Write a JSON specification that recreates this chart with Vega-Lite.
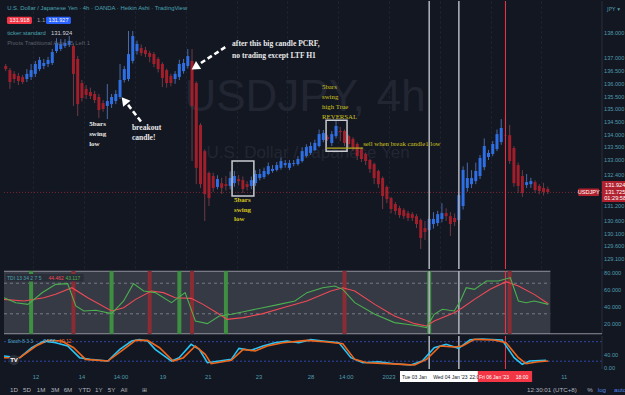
{
"$schema":"https://vega.github.io/schema/vega-lite/v6.json",
"background":"#131722",
"padding":0,
"bounds":"flush",
"spacing":2,
"config":{"view":{"stroke":null},"font":"Liberation Sans","axis":{"labelOverlap":false}},
"datasets":{
"candles":[
{"i":0,"o":136.70,"h":136.78,"l":136.50,"c":136.58},
{"i":1,"o":136.54,"h":136.62,"l":135.80,"c":136.07},
{"i":2,"o":136.39,"h":136.50,"l":136.03,"c":136.19},
{"i":3,"o":136.31,"h":136.43,"l":135.95,"c":136.11},
{"i":4,"o":136.27,"h":136.35,"l":135.99,"c":136.07},
{"i":5,"o":136.19,"h":136.58,"l":136.07,"c":136.39},
{"i":6,"o":136.27,"h":136.78,"l":136.15,"c":136.54},
{"i":7,"o":136.39,"h":136.90,"l":136.27,"c":136.78},
{"i":8,"o":136.58,"h":137.06,"l":136.50,"c":136.94},
{"i":9,"o":136.70,"h":136.98,"l":136.58,"c":136.82},
{"i":10,"o":136.78,"h":137.06,"l":136.66,"c":136.94},
{"i":11,"o":136.82,"h":137.37,"l":136.74,"c":137.25},
{"i":12,"o":137.29,"h":137.80,"l":137.21,"c":137.61},
{"i":13,"o":137.37,"h":137.76,"l":137.29,"c":137.57},
{"i":14,"o":137.49,"h":137.76,"l":137.41,"c":137.61},
{"i":15,"o":137.53,"h":137.88,"l":137.45,"c":137.69},
{"i":16,"o":137.49,"h":137.60,"l":135.13,"c":136.39},
{"i":17,"o":136.98,"h":137.10,"l":134.73,"c":135.20},
{"i":18,"o":136.03,"h":136.15,"l":135.30,"c":135.44},
{"i":19,"o":135.80,"h":135.95,"l":135.40,"c":135.56},
{"i":20,"o":135.68,"h":135.85,"l":135.40,"c":135.52},
{"i":21,"o":135.60,"h":135.72,"l":135.24,"c":135.36},
{"i":22,"o":135.48,"h":135.60,"l":134.65,"c":134.97},
{"i":23,"o":135.24,"h":135.36,"l":134.90,"c":135.01},
{"i":24,"o":135.13,"h":135.99,"l":134.61,"c":135.32},
{"i":25,"o":135.20,"h":135.60,"l":135.05,"c":135.48},
{"i":26,"o":135.32,"h":135.75,"l":135.20,"c":135.60},
{"i":27,"o":135.48,"h":136.78,"l":135.40,"c":136.15},
{"i":28,"o":136.15,"h":136.70,"l":136.05,"c":136.58},
{"i":29,"o":136.19,"h":138.08,"l":136.10,"c":137.17},
{"i":30,"o":136.90,"h":138.08,"l":136.80,"c":137.88},
{"i":31,"o":137.29,"h":137.70,"l":137.15,"c":137.57},
{"i":32,"o":137.41,"h":137.55,"l":137.10,"c":137.21},
{"i":33,"o":137.33,"h":137.45,"l":137.05,"c":137.17},
{"i":34,"o":137.21,"h":137.30,"l":136.85,"c":137.06},
{"i":35,"o":137.17,"h":137.25,"l":136.65,"c":136.78},
{"i":36,"o":136.98,"h":137.05,"l":136.45,"c":136.58},
{"i":37,"o":136.78,"h":136.85,"l":135.87,"c":136.23},
{"i":38,"o":136.54,"h":136.60,"l":135.85,"c":136.03},
{"i":39,"o":136.31,"h":136.40,"l":135.90,"c":136.03},
{"i":40,"o":136.19,"h":136.50,"l":136.00,"c":136.39},
{"i":41,"o":136.27,"h":136.95,"l":136.15,"c":136.78},
{"i":42,"o":136.50,"h":136.98,"l":136.40,"c":136.82},
{"i":43,"o":136.70,"h":137.37,"l":136.60,"c":137.09},
{"i":44,"o":136.90,"h":137.37,"l":132.96,"c":135.13},
{"i":45,"o":136.03,"h":136.10,"l":132.05,"c":132.69},
{"i":46,"o":134.38,"h":134.45,"l":131.90,"c":132.05},
{"i":47,"o":133.35,"h":133.42,"l":130.60,"c":131.66},
{"i":48,"o":132.49,"h":132.55,"l":131.19,"c":131.50},
{"i":49,"o":132.37,"h":132.50,"l":131.75,"c":131.90},
{"i":50,"o":131.94,"h":132.40,"l":131.85,"c":132.25},
{"i":51,"o":132.09,"h":132.30,"l":131.66,"c":131.90},
{"i":52,"o":132.05,"h":132.37,"l":131.80,"c":131.98},
{"i":53,"o":131.98,"h":132.55,"l":131.85,"c":132.29},
{"i":54,"o":132.09,"h":132.57,"l":131.95,"c":132.37},
{"i":55,"o":132.25,"h":132.41,"l":132.00,"c":132.17},
{"i":56,"o":132.21,"h":132.35,"l":131.70,"c":131.86},
{"i":57,"o":132.05,"h":132.17,"l":131.80,"c":131.94},
{"i":58,"o":131.98,"h":132.35,"l":131.85,"c":132.21},
{"i":59,"o":132.09,"h":132.60,"l":131.98,"c":132.45},
{"i":60,"o":132.29,"h":132.65,"l":132.20,"c":132.45},
{"i":61,"o":132.33,"h":132.70,"l":132.25,"c":132.57},
{"i":62,"o":132.45,"h":132.90,"l":132.40,"c":132.76},
{"i":63,"o":132.57,"h":132.80,"l":132.50,"c":132.65},
{"i":64,"o":132.61,"h":132.92,"l":132.55,"c":132.80},
{"i":65,"o":132.69,"h":133.10,"l":132.62,"c":132.96},
{"i":66,"o":132.80,"h":133.00,"l":132.70,"c":132.88},
{"i":67,"o":132.69,"h":133.00,"l":132.60,"c":132.88},
{"i":68,"o":132.84,"h":133.00,"l":132.75,"c":132.88},
{"i":69,"o":132.84,"h":133.15,"l":132.78,"c":133.04},
{"i":70,"o":132.96,"h":133.50,"l":132.90,"c":133.35},
{"i":71,"o":133.16,"h":133.62,"l":133.10,"c":133.51},
{"i":72,"o":133.28,"h":133.70,"l":133.20,"c":133.55},
{"i":73,"o":133.39,"h":133.80,"l":133.35,"c":133.67},
{"i":74,"o":133.55,"h":134.20,"l":133.50,"c":134.02},
{"i":75,"o":133.79,"h":134.18,"l":133.70,"c":134.06},
{"i":76,"o":133.90,"h":133.98,"l":133.75,"c":133.83},
{"i":77,"o":133.67,"h":134.14,"l":133.55,"c":134.02},
{"i":78,"o":133.94,"h":134.57,"l":133.85,"c":134.34},
{"i":79,"o":134.14,"h":134.30,"l":133.75,"c":134.10},
{"i":80,"o":134.14,"h":134.20,"l":133.55,"c":133.67},
{"i":81,"o":133.94,"h":134.00,"l":133.50,"c":133.63},
{"i":82,"o":133.83,"h":133.90,"l":133.35,"c":133.47},
{"i":83,"o":133.63,"h":133.70,"l":133.00,"c":133.16},
{"i":84,"o":133.43,"h":133.50,"l":132.92,"c":133.04},
{"i":85,"o":133.24,"h":133.30,"l":132.80,"c":132.96},
{"i":86,"o":133.00,"h":133.05,"l":132.50,"c":132.65},
{"i":87,"o":132.84,"h":132.90,"l":132.05,"c":132.29},
{"i":88,"o":132.57,"h":132.62,"l":131.90,"c":132.05},
{"i":89,"o":132.29,"h":132.35,"l":131.07,"c":131.58},
{"i":90,"o":131.94,"h":132.00,"l":131.30,"c":131.46},
{"i":91,"o":131.50,"h":131.55,"l":130.90,"c":131.07},
{"i":92,"o":131.27,"h":131.35,"l":130.85,"c":130.99},
{"i":93,"o":131.11,"h":131.20,"l":130.72,"c":130.83},
{"i":94,"o":131.03,"h":131.10,"l":130.68,"c":130.79},
{"i":95,"o":130.91,"h":131.00,"l":130.60,"c":130.72},
{"i":96,"o":130.87,"h":130.95,"l":130.60,"c":130.72},
{"i":97,"o":130.79,"h":130.87,"l":130.32,"c":130.48},
{"i":98,"o":130.64,"h":130.70,"l":129.50,"c":129.93},
{"i":99,"o":130.32,"h":130.60,"l":129.85,"c":130.17},
{"i":100,"o":130.24,"h":130.80,"l":129.81,"c":130.68},
{"i":101,"o":130.48,"h":130.95,"l":130.30,"c":130.68},
{"i":102,"o":130.52,"h":131.00,"l":130.40,"c":130.87},
{"i":103,"o":130.68,"h":131.30,"l":130.55,"c":130.91},
{"i":104,"o":130.91,"h":131.10,"l":130.60,"c":130.79},
{"i":105,"o":130.79,"h":130.95,"l":130.01,"c":130.48},
{"i":106,"o":130.72,"h":130.90,"l":130.40,"c":130.56},
{"i":107,"o":130.64,"h":131.70,"l":130.50,"c":131.62},
{"i":108,"o":131.19,"h":132.75,"l":131.05,"c":132.61},
{"i":109,"o":131.90,"h":132.90,"l":131.75,"c":132.29},
{"i":110,"o":132.05,"h":132.60,"l":131.90,"c":132.29},
{"i":111,"o":132.17,"h":132.90,"l":132.05,"c":132.57},
{"i":112,"o":132.37,"h":133.20,"l":132.25,"c":133.08},
{"i":113,"o":132.72,"h":133.85,"l":132.60,"c":133.55},
{"i":114,"o":133.12,"h":133.40,"l":133.00,"c":133.28},
{"i":115,"o":133.24,"h":133.75,"l":133.15,"c":133.63},
{"i":116,"o":133.43,"h":134.20,"l":133.35,"c":134.02},
{"i":117,"o":133.71,"h":134.61,"l":133.60,"c":134.26},
{"i":118,"o":133.99,"h":134.75,"l":133.60,"c":133.97},
{"i":119,"o":133.98,"h":134.38,"l":132.85,"c":132.96},
{"i":120,"o":133.47,"h":133.55,"l":131.95,"c":132.09},
{"i":121,"o":132.80,"h":132.90,"l":131.70,"c":131.98},
{"i":122,"o":132.37,"h":132.60,"l":131.55,"c":131.70},
{"i":123,"o":132.02,"h":132.45,"l":131.90,"c":132.13},
{"i":124,"o":132.05,"h":132.30,"l":131.90,"c":132.17},
{"i":125,"o":132.13,"h":132.20,"l":131.70,"c":131.82},
{"i":126,"o":131.98,"h":132.05,"l":131.65,"c":131.78},
{"i":127,"o":131.90,"h":132.10,"l":131.60,"c":131.74},
{"i":128,"o":131.86,"h":131.95,"l":131.66,"c":131.74}
],
"wm1":[{"i":70.7,"p":135.46,"t":"USDJPY, 4h"}],
"wm2":[{"i":71.4,"p":133.28,"t":"U.S. Dollar / Japanese Yen"}],
"vlines":[{"i":100,"k":"g"},{"i":107,"k":"g"},{"i":118,"k":"r"}],
"sep":[{"i":140.8}],
"boxes":[{"i0":53.45,"i1":58.6,"p0":132.96,"p1":131.58},{"i0":75.65,"i1":80.6,"p0":134.57,"p1":133.35}],
"yline":[{"i0":75.65,"i1":84.4,"p":133.47}],
"arrows":[{"a":"A","i":52.3,"p":137.49},{"a":"A","i":46.1,"p":136.82},{"a":"B","i":32.2,"p":134.46},{"a":"B","i":28.9,"p":135.17}],
"headA":[{"i":45.0,"p":136.68}],
"headB":[{"i":28.2,"p":135.30}],
"notesA":[{"i":53.45,"p":137.57,"t":"after this big candle PCRF,"},{"i":53.45,"p":137.09,"t":"no trading except LTF H1"},{"i":29.8,"p":134.26,"t":"breakout"},{"i":29.8,"p":133.85,"t":"candle!"}],
"notesW":[{"i":19.7,"p":134.42,"t":"5bars"},{"i":19.7,"p":134.02,"t":"swing"},{"i":19.7,"p":133.63,"t":"low"}],
"notesY1":[{"i":53.9,"p":131.41,"t":"5bars"},{"i":53.9,"p":131.03,"t":"swing"},{"i":53.9,"p":130.66,"t":"low"}],
"notesY2":[{"i":74.7,"p":135.87,"t":"5bars"},{"i":74.7,"p":135.48,"t":"swing"},{"i":74.7,"p":135.09,"t":"high True"},{"i":74.7,"p":134.69,"t":"REVERSAL"},{"i":84.4,"p":133.63,"t":"sell when break candle1 low"}],
"hdrL":[{"i":0.35,"p":138.98,"t":"U.S. Dollar / Japanese Yen · 4h · OANDA · Heikin Ashi · TradingView","k":"teal"},{"i":7.4,"p":138.50,"t":"1.1","k":"gray"},{"i":0.35,"p":138.01,"t":"ticker:standard","k":"teal"},{"i":10.7,"p":138.01,"t":"131.924","k":"white"},{"i":0.35,"p":137.62,"t":"Pivots Traditional Auto 15 Left 1","k":"dim"}],
"hdrBox":[{"i0":0.3,"i1":6.2,"p0":138.64,"p1":138.35,"k":"r"},{"i0":9.5,"i1":15.4,"p0":138.64,"p1":138.35,"k":"b"}],
"hdrC":[{"i":3.26,"p":138.50,"t":"131.918"},{"i":12.47,"p":138.50,"t":"131.927"}],
"ylab":[{"p":138,"t":"138.000"},{"p":137,"t":"137.000"},{"p":136.5,"t":"136.500"},{"p":136,"t":"136.000"},{"p":135.5,"t":"135.500"},{"p":135,"t":"135.000"},{"p":134.5,"t":"134.500"},{"p":134,"t":"134.000"},{"p":133.5,"t":"133.500"},{"p":133,"t":"133.000"},{"p":132.4,"t":"132.400"},{"p":131.2,"t":"131.200"},{"p":130.6,"t":"130.600"},{"p":130.1,"t":"130.100"},{"p":129.6,"t":"129.600"},{"p":129.1,"t":"129.100"}],
"plabBox":[{"i0":140.8,"i1":147.2,"p0":132.17,"p1":131.35},{"i0":135.2,"i1":140.1,"p0":131.88,"p1":131.58}],
"plabT":[{"i":143.9,"p":132.02,"t":"131.924"},{"i":143.9,"p":131.74,"t":"131.725"},{"i":143.9,"p":131.50,"t":"01:29:58"},{"i":137.65,"p":131.74,"t":"USDJPY"}],
"jpy":[{"i":142.0,"p":138.95,"t":"JPY ▾"}],
"tdiBg":[{"i0":-0.4,"i1":128.6}],
"tdiRules":[{"v":82.1,"i0":-0.4,"i1":128.6,"k":"b"},{"v":8.5,"i0":-0.4,"i1":140.8,"k":"b"},{"v":68,"i0":-0.4,"i1":128.6,"k":"d"},{"v":32,"i0":-0.4,"i1":128.6,"k":"d"}],
"tdiLab":[{"v":80,"t":"80.000"},{"v":60,"t":"60.000"},{"v":40,"t":"40.000"},{"v":20,"t":"20.000"}],
"tdi":[
{"s":"g","i":-0.4,"v":50.9},{"s":"g","i":2.4,"v":45.1},{"s":"g","i":5.25,"v":43.1},{"s":"g","i":8.58,"v":56.8},{"s":"g","i":11.8,"v":66.7},{"s":"g","i":14.63,"v":67.5},{"s":"g","i":16.55,"v":41.2},{"s":"g","i":18.46,"v":35.3},{"s":"g","i":21.29,"v":36.1},{"s":"g","i":25.02,"v":32.2},{"s":"g","i":27.84,"v":47.1},{"s":"g","i":30.16,"v":67.5},{"s":"g","i":32.58,"v":58.8},{"s":"g","i":35.31,"v":56.9},{"s":"g","i":39.14,"v":45.1},{"s":"g","i":42.37,"v":56.9},{"s":"g","i":44.79,"v":23.5},{"s":"g","i":47.62,"v":20.4},{"s":"g","i":50.44,"v":29.4},{"s":"g","i":53.27,"v":31.4},{"s":"g","i":57.0,"v":35.3},{"s":"g","i":60.73,"v":39.2},{"s":"g","i":64.57,"v":43.1},{"s":"g","i":68.3,"v":47.1},{"s":"g","i":71.12,"v":56.9},{"s":"g","i":74.85,"v":62.7},{"s":"g","i":77.68,"v":64.7},{"s":"g","i":79.59,"v":60.8},{"s":"g","i":82.42,"v":45.1},{"s":"g","i":87.16,"v":31.4},{"s":"g","i":91.8,"v":21.6},{"s":"g","i":94.63,"v":19.6},{"s":"g","i":97.45,"v":17.6},{"s":"g","i":99.37,"v":15.7},{"s":"g","i":101.18,"v":31.4},{"s":"g","i":103.1,"v":37.3},{"s":"g","i":105.92,"v":35.3},{"s":"g","i":107.34,"v":47.1},{"s":"g","i":108.75,"v":62.7},{"s":"g","i":110.67,"v":60.8},{"s":"g","i":113.49,"v":70.6},{"s":"g","i":116.31,"v":70.6},{"s":"g","i":119.14,"v":74.5},{"s":"g","i":121.06,"v":47.1},{"s":"g","i":122.87,"v":45.1},{"s":"g","i":124.79,"v":47.1},{"s":"g","i":128.12,"v":43.1},
{"s":"r","i":-0.4,"v":49.0},{"s":"r","i":4.34,"v":47.1},{"s":"r","i":8.98,"v":50.9},{"s":"r","i":11.8,"v":54.9},{"s":"r","i":15.64,"v":62.7},{"s":"r","i":19.37,"v":50.9},{"s":"r","i":25.02,"v":35.3},{"s":"r","i":27.84,"v":39.2},{"s":"r","i":30.67,"v":49.0},{"s":"r","i":34.4,"v":58.8},{"s":"r","i":37.22,"v":56.9},{"s":"r","i":40.05,"v":50.9},{"s":"r","i":43.78,"v":50.2},{"s":"r","i":46.61,"v":43.1},{"s":"r","i":50.44,"v":31.4},{"s":"r","i":52.26,"v":25.5},{"s":"r","i":56.09,"v":27.5},{"s":"r","i":60.73,"v":32.2},{"s":"r","i":65.47,"v":39.2},{"s":"r","i":71.12,"v":47.1},{"s":"r","i":76.77,"v":58.8},{"s":"r","i":79.59,"v":62.7},{"s":"r","i":82.42,"v":58.8},{"s":"r","i":87.16,"v":43.1},{"s":"r","i":91.8,"v":29.4},{"s":"r","i":96.54,"v":20.4},{"s":"r","i":99.37,"v":17.6},{"s":"r","i":101.18,"v":23.5},{"s":"r","i":105.92,"v":33.3},{"s":"r","i":107.84,"v":39.2},{"s":"r","i":110.67,"v":49.0},{"s":"r","i":114.4,"v":60.8},{"s":"r","i":118.13,"v":69.8},{"s":"r","i":121.06,"v":64.7},{"s":"r","i":124.79,"v":54.9},{"s":"r","i":128.12,"v":43.9}
],
"tdiBars":[{"i":6,"k":"g"},{"i":25,"k":"g"},{"i":41,"k":"g"},{"i":52,"k":"g"},{"i":100,"k":"g"},{"i":16,"k":"r"},{"i":34,"k":"r"},{"i":44,"k":"r"},{"i":80,"k":"r"},{"i":119,"k":"r"}],
"tdiHdrBox":[{"i0":0.07,"i1":18.4,"v0":70,"v1":79}],
"tdiHdr":[{"i":0.3,"v":74.5,"t":"TDI 13 34 2 7 5","k":"t"},{"i":10.1,"v":74.5,"t":"44.462","k":"r"},{"i":14.1,"v":74.5,"t":"43.117","k":"g"}],
"stoch":[
{"s":"k","i":-0.4,"v":35.9},{"s":"k","i":3.33,"v":30.8},{"s":"k","i":6.15,"v":61.5},{"s":"k","i":8.98,"v":82.1},{"s":"k","i":11.8,"v":76.9},{"s":"k","i":14.63,"v":66.7},{"s":"k","i":17.45,"v":30.8},{"s":"k","i":19.87,"v":25.6},{"s":"k","i":24.11,"v":20.5},{"s":"k","i":26.94,"v":56.4},{"s":"k","i":29.76,"v":82.1},{"s":"k","i":31.58,"v":86.2},{"s":"k","i":33.49,"v":82.1},{"s":"k","i":35.31,"v":56.4},{"s":"k","i":39.14,"v":20.5},{"s":"k","i":40.96,"v":30.8},{"s":"k","i":43.78,"v":71.8},{"s":"k","i":45.7,"v":56.4},{"s":"k","i":47.62,"v":15.4},{"s":"k","i":50.44,"v":20.5},{"s":"k","i":53.27,"v":25.6},{"s":"k","i":55.08,"v":59.5},{"s":"k","i":57.91,"v":53.3},{"s":"k","i":60.73,"v":66.7},{"s":"k","i":63.56,"v":76.9},{"s":"k","i":66.38,"v":82.1},{"s":"k","i":69.21,"v":76.9},{"s":"k","i":72.03,"v":86.2},{"s":"k","i":74.85,"v":82.1},{"s":"k","i":78.69,"v":76.9},{"s":"k","i":81.51,"v":30.8},{"s":"k","i":84.34,"v":15.4},{"s":"k","i":88.07,"v":18.5},{"s":"k","i":91.8,"v":12.3},{"s":"k","i":95.64,"v":8.2},{"s":"k","i":98.36,"v":20.5},{"s":"k","i":101.18,"v":61.5},{"s":"k","i":104.01,"v":71.8},{"s":"k","i":106.94,"v":59.5},{"s":"k","i":109.66,"v":86.2},{"s":"k","i":112.48,"v":88.2},{"s":"k","i":117.22,"v":85.1},{"s":"k","i":120.05,"v":30.8},{"s":"k","i":121.96,"v":10.3},{"s":"k","i":123.78,"v":20.5},{"s":"k","i":127.61,"v":22.6},
{"s":"d","i":-0.4,"v":30.8},{"s":"d","i":3.33,"v":30.8},{"s":"d","i":7.16,"v":66.7},{"s":"d","i":9.99,"v":84.1},{"s":"d","i":13.22,"v":82.1},{"s":"d","i":16.04,"v":61.5},{"s":"d","i":18.87,"v":25.6},{"s":"d","i":24.11,"v":20.5},{"s":"d","i":27.84,"v":56.4},{"s":"d","i":30.67,"v":84.1},{"s":"d","i":33.49,"v":84.1},{"s":"d","i":36.32,"v":61.5},{"s":"d","i":39.55,"v":20.5},{"s":"d","i":41.97,"v":30.8},{"s":"d","i":44.79,"v":66.7},{"s":"d","i":47.11,"v":41.0},{"s":"d","i":48.52,"v":12.3},{"s":"d","i":53.27,"v":22.6},{"s":"d","i":56.09,"v":56.4},{"s":"d","i":58.92,"v":51.4},{"s":"d","i":61.74,"v":66.7},{"s":"d","i":65.47,"v":76.9},{"s":"d","i":71.12,"v":84.1},{"s":"d","i":75.86,"v":79.0},{"s":"d","i":79.59,"v":73.8},{"s":"d","i":82.42,"v":25.6},{"s":"d","i":85.24,"v":15.4},{"s":"d","i":93.72,"v":10.3},{"s":"d","i":96.54,"v":8.2},{"s":"d","i":99.37,"v":25.6},{"s":"d","i":102.6,"v":66.7},{"s":"d","i":105.92,"v":63.6},{"s":"d","i":107.84,"v":66.7},{"s":"d","i":110.67,"v":87.2},{"s":"d","i":115.3,"v":85.1},{"s":"d","i":118.13,"v":76.9},{"s":"d","i":121.06,"v":30.8},{"s":"d","i":122.87,"v":12.3},{"s":"d","i":125.7,"v":18.5},{"s":"d","i":128.12,"v":20.5}
],
"stLevels":[{"v":80},{"v":20}],
"stLab":[{"v":40,"t":"40.00"},{"v":0,"t":"0.00"}],
"stHdr":[{"i":0.5,"v":82,"t":"Stoch 8 3 3","k":"t"},{"i":8.9,"v":82,"t":"24.56","k":"c"},{"i":12.6,"v":82,"t":"19.12","k":"o"}],
"logo":[{"i":1.96,"v":24,"t":"TV"}],
"ta":[{"i":7.16,"t":"12"},{"i":18.0,"t":"14"},{"i":27.2,"t":"14:00"},{"i":37.15,"t":"19"},{"i":47.8,"t":"21"},{"i":59.8,"t":"23"},{"i":72.1,"t":"28"},{"i":80.4,"t":"14:00"},{"i":90.5,"t":"2023"},{"i":131.9,"t":"11"}],
"taBoxW":[{"i0":93.1,"i1":111.5}],
"taBoxR":[{"i0":111.5,"i1":124.3}],
"taW":[{"i":96.5,"t":"Tue 03 Jan"},{"i":105.0,"t":"Wed 04 Jan '23"}],
"taW2":[{"i":109.5,"t":"22:00"}],
"taR":[{"i":115.3,"t":"Fri 06 Jan '23"},{"i":121.9,"t":"18:00"}],
"tb":[{"i":1.96,"t":"1D","k":"n"},{"i":5.03,"t":"5D","k":"n"},{"i":8.34,"t":"1M","k":"n"},{"i":11.64,"t":"3M","k":"n"},{"i":14.7,"t":"6M","k":"n"},{"i":18.6,"t":"YTD","k":"n"},{"i":22.0,"t":"1Y","k":"n"},{"i":25.0,"t":"5Y","k":"n"},{"i":27.9,"t":"All","k":"n"},{"i":32.7,"t":"⊞","k":"n"},{"i":129.0,"t":"12:30:01 (UTC+8)","k":"n"},{"i":138.0,"t":"%","k":"n"},{"i":140.8,"t":"log","k":"b"},{"i":145.1,"t":"auto","k":"b"}]
},
"vconcat":[
{
"width":598,"height":268,
"layer":[
{"data":{"name":"wm1"},"mark":{"type":"text","fontSize":44,"color":"#222632","baseline":"middle"},
 "encoding":{"x":{"field":"i","type":"quantitative","scale":{"domain":[-0.4,140.8],"nice":false,"zero":false,"padding":0},"axis":{"grid":true,"values":[6.5,12.5,18.5,24.5,30.5,36.5,42.5,48.5,54.5,60.5,66.5,72.5,78.5,84.5,90.5,96.5,102.5,108.5,114.5,120.5,126.5],"labels":false,"ticks":false,"domain":false,"title":null,"gridColor":"#222633","gridDash":[2,3]}},
 "y":{"field":"p","type":"quantitative","scale":{"domain":[128.71,139.26],"nice":false,"zero":false,"padding":0},"axis":null},
 "text":{"field":"t","type":"nominal"}}},
{"data":{"name":"wm2"},"mark":{"type":"text","fontSize":17,"color":"#222632","baseline":"middle"},
 "encoding":{"x":{"field":"i","type":"quantitative"},"y":{"field":"p","type":"quantitative"},"text":{"field":"t","type":"nominal"}}},
{"data":{"name":"sep"},"mark":{"type":"rule","color":"#2a2e39","strokeWidth":1},
 "encoding":{"x":{"field":"i","type":"quantitative"}}},
{"data":{"values":[{"p":131.725}]},"mark":{"type":"rule","color":"#7d2630","strokeDash":[1,2],"strokeWidth":1},
 "encoding":{"y":{"field":"p","type":"quantitative"}}},
{"data":{"name":"candles"},"mark":{"type":"rule","strokeWidth":1},
 "encoding":{"x":{"field":"i","type":"quantitative"},"y":{"field":"l","type":"quantitative"},"y2":{"field":"h"},
 "color":{"condition":{"test":"datum.c >= datum.o","value":"#4a6aa8"},"value":"#6e3a44"}}},
{"data":{"name":"candles"},"mark":{"type":"bar","width":3},
 "encoding":{"x":{"field":"i","type":"quantitative"},"y":{"field":"o","type":"quantitative"},"y2":{"field":"c"},
 "color":{"condition":{"test":"datum.c >= datum.o","value":"#2f6fe4"},"value":"#a01f2b"}}},
{"data":{"name":"vlines"},"mark":{"type":"rule"},
 "encoding":{"x":{"field":"i","type":"quantitative"},
 "color":{"condition":{"test":"datum.k == 'r'","value":"#f23645"},"value":"#a9acb4"},
 "strokeWidth":{"condition":{"test":"datum.k == 'r'","value":1},"value":1.6}}},
{"data":{"name":"boxes"},"mark":{"type":"rect","filled":false,"stroke":"#c9cbd1","strokeWidth":1.5},
 "encoding":{"x":{"field":"i0","type":"quantitative"},"x2":{"field":"i1"},"y":{"field":"p0","type":"quantitative"},"y2":{"field":"p1"}}},
{"data":{"name":"yline"},"mark":{"type":"rule","color":"#b9ad1f","strokeWidth":1.2},
 "encoding":{"x":{"field":"i0","type":"quantitative"},"x2":{"field":"i1"},"y":{"field":"p","type":"quantitative"}}},
{"data":{"name":"arrows"},"mark":{"type":"line","color":"#ffffff","strokeWidth":2.6,"strokeDash":[5,3]},
 "encoding":{"x":{"field":"i","type":"quantitative"},"y":{"field":"p","type":"quantitative"},"detail":{"field":"a","type":"nominal"}}},
{"data":{"name":"headA"},"mark":{"type":"point","shape":"triangle","filled":true,"color":"#ffffff","opacity":1,"size":90,"angle":237},
 "encoding":{"x":{"field":"i","type":"quantitative"},"y":{"field":"p","type":"quantitative"}}},
{"data":{"name":"headB"},"mark":{"type":"point","shape":"triangle","filled":true,"color":"#ffffff","opacity":1,"size":90,"angle":321},
 "encoding":{"x":{"field":"i","type":"quantitative"},"y":{"field":"p","type":"quantitative"}}},
{"data":{"name":"notesA"},"mark":{"type":"text","font":"Liberation Serif","fontWeight":"bold","fontSize":7.6,"color":"#e8e8e8","align":"left","baseline":"middle"},
 "encoding":{"x":{"field":"i","type":"quantitative"},"y":{"field":"p","type":"quantitative"},"text":{"field":"t","type":"nominal"}}},
{"data":{"name":"notesW"},"mark":{"type":"text","font":"Liberation Serif","fontWeight":"bold","fontSize":7,"color":"#e8e8e8","align":"left","baseline":"middle"},
 "encoding":{"x":{"field":"i","type":"quantitative"},"y":{"field":"p","type":"quantitative"},"text":{"field":"t","type":"nominal"}}},
{"data":{"name":"notesY1"},"mark":{"type":"text","font":"Liberation Serif","fontWeight":"bold","fontSize":7,"color":"#d4c51c","align":"left","baseline":"middle"},
 "encoding":{"x":{"field":"i","type":"quantitative"},"y":{"field":"p","type":"quantitative"},"text":{"field":"t","type":"nominal"}}},
{"data":{"name":"notesY2"},"mark":{"type":"text","font":"Liberation Serif","fontSize":6.8,"color":"#cfc21c","align":"left","baseline":"middle"},
 "encoding":{"x":{"field":"i","type":"quantitative"},"y":{"field":"p","type":"quantitative"},"text":{"field":"t","type":"nominal"}}},
{"data":{"name":"hdrBox"},"mark":{"type":"rect","cornerRadius":1.5},
 "encoding":{"x":{"field":"i0","type":"quantitative"},"x2":{"field":"i1"},"y":{"field":"p0","type":"quantitative"},"y2":{"field":"p1"},
 "color":{"condition":{"test":"datum.k == 'r'","value":"#f23645"},"value":"#2962ff"}}},
{"data":{"name":"hdrC"},"mark":{"type":"text","fontSize":5.5,"color":"#ffffff","align":"center","baseline":"middle"},
 "encoding":{"x":{"field":"i","type":"quantitative"},"y":{"field":"p","type":"quantitative"},"text":{"field":"t","type":"nominal"}}},
{"data":{"name":"hdrL"},"mark":{"type":"text","fontSize":5.9,"align":"left","baseline":"middle"},
 "encoding":{"x":{"field":"i","type":"quantitative"},"y":{"field":"p","type":"quantitative"},"text":{"field":"t","type":"nominal"},
 "color":{"condition":[{"test":"datum.k == 'teal'","value":"#4aa3b0"},{"test":"datum.k == 'white'","value":"#d1d4dc"},{"test":"datum.k == 'dim'","value":"#5d606b"}],"value":"#9598a1"}}},
{"data":{"name":"ylab"},"mark":{"type":"text","fontSize":5.6,"color":"#4f9cae","align":"left","baseline":"middle"},
 "encoding":{"x":{"datum":141.3,"type":"quantitative"},"y":{"field":"p","type":"quantitative"},"text":{"field":"t","type":"nominal"}}},
{"data":{"name":"plabBox"},"mark":{"type":"rect","color":"#b2222e","cornerRadius":1},
 "encoding":{"x":{"field":"i0","type":"quantitative"},"x2":{"field":"i1"},"y":{"field":"p0","type":"quantitative"},"y2":{"field":"p1"}}},
{"data":{"name":"plabT"},"mark":{"type":"text","fontSize":5.6,"color":"#ffffff","align":"center","baseline":"middle"},
 "encoding":{"x":{"field":"i","type":"quantitative"},"y":{"field":"p","type":"quantitative"},"text":{"field":"t","type":"nominal"}}},
{"data":{"name":"jpy"},"mark":{"type":"text","fontSize":5.6,"color":"#4f9cae","align":"left","baseline":"middle","font":"DejaVu Sans"},
 "encoding":{"x":{"field":"i","type":"quantitative"},"y":{"field":"p","type":"quantitative"},"text":{"field":"t","type":"nominal"}}}
]
},
{
"width":598,"height":63,
"layer":[
{"data":{"name":"tdiBg"},"mark":{"type":"rect","color":"#363a45"},
 "encoding":{"x":{"field":"i0","type":"quantitative","scale":{"domain":[-0.4,140.8],"nice":false,"zero":false,"padding":0},"axis":null},"x2":{"field":"i1"}}},
{"data":{"name":"sep"},"mark":{"type":"rule","color":"#2a2e39","strokeWidth":1},
 "encoding":{"x":{"field":"i","type":"quantitative"}}},
{"data":{"name":"tdiRules"},"mark":{"type":"rule"},
 "encoding":{"x":{"field":"i0","type":"quantitative"},"x2":{"field":"i1"},
 "y":{"field":"v","type":"quantitative","scale":{"domain":[8.2,82.4],"nice":false,"zero":false},"axis":null},
 "color":{"condition":{"test":"datum.k == 'b'","value":"#8e919a"},"value":"#787b86"},
 "strokeDash":{"condition":{"test":"datum.k == 'b'","value":[1,0]},"value":[3,3]},
 "strokeWidth":{"condition":{"test":"datum.k == 'b'","value":1.2},"value":1}}},
{"data":{"name":"tdiBars"},"mark":{"type":"rule","strokeWidth":4},
 "encoding":{"x":{"field":"i","type":"quantitative"},
 "color":{"condition":{"test":"datum.k == 'g'","value":"#3f8f42"},"value":"#8a2c33"}}},
{"data":{"name":"vlines"},"mark":{"type":"rule"},
 "encoding":{"x":{"field":"i","type":"quantitative"},
 "color":{"condition":{"test":"datum.k == 'r'","value":"#f23645"},"value":"#a9acb4"},
 "strokeWidth":{"condition":{"test":"datum.k == 'r'","value":1},"value":1.6}}},
{"data":{"name":"tdi"},"transform":[{"filter":"datum.s == 'r'"}],"mark":{"type":"line","strokeWidth":1.1,"color":"#ef4a55"},
 "encoding":{"x":{"field":"i","type":"quantitative"},"y":{"field":"v","type":"quantitative"}}},
{"data":{"name":"tdi"},"transform":[{"filter":"datum.s == 'g'"}],"mark":{"type":"line","strokeWidth":1.1,"color":"#4caf50"},
 "encoding":{"x":{"field":"i","type":"quantitative"},"y":{"field":"v","type":"quantitative"}}},
{"data":{"name":"tdiHdrBox"},"mark":{"type":"rect","color":"#2a2e39"},
 "encoding":{"x":{"field":"i0","type":"quantitative"},"x2":{"field":"i1"},"y":{"field":"v0","type":"quantitative"},"y2":{"field":"v1"}}},
{"data":{"name":"tdiHdr"},"mark":{"type":"text","fontSize":5,"align":"left","baseline":"middle"},
 "encoding":{"x":{"field":"i","type":"quantitative"},"y":{"field":"v","type":"quantitative"},"text":{"field":"t","type":"nominal"},
 "color":{"condition":[{"test":"datum.k == 'r'","value":"#ef4a55"},{"test":"datum.k == 'g'","value":"#4caf50"}],"value":"#4aa3b0"}}},
{"data":{"name":"tdiLab"},"mark":{"type":"text","fontSize":5.6,"color":"#4f9cae","align":"left","baseline":"middle"},
 "encoding":{"x":{"datum":141.3,"type":"quantitative"},"y":{"field":"v","type":"quantitative"},"text":{"field":"t","type":"nominal"}}}
]
},
{
"width":598,"height":33,
"layer":[
{"data":{"name":"stLevels"},"mark":{"type":"rule","color":"#2f46a8","strokeDash":[2,2],"strokeWidth":1},
 "encoding":{"y":{"field":"v","type":"quantitative","scale":{"domain":[-4,97.5],"nice":false,"zero":false},"axis":null}}},
{"data":{"name":"sep"},"mark":{"type":"rule","color":"#2a2e39","strokeWidth":1},
 "encoding":{"x":{"field":"i","type":"quantitative","scale":{"domain":[-0.4,140.8],"nice":false,"zero":false,"padding":0},"axis":null}}},
{"data":{"name":"vlines"},"mark":{"type":"rule"},
 "encoding":{"x":{"field":"i","type":"quantitative"},
 "color":{"condition":{"test":"datum.k == 'r'","value":"#f23645"},"value":"#a9acb4"},
 "strokeWidth":{"condition":{"test":"datum.k == 'r'","value":1},"value":1.6}}},
{"data":{"name":"stoch"},"transform":[{"filter":"datum.s == 'k'"}],"mark":{"type":"line","strokeWidth":1.6,"color":"#29c5f6"},
 "encoding":{"x":{"field":"i","type":"quantitative"},"y":{"field":"v","type":"quantitative"}}},
{"data":{"name":"stoch"},"transform":[{"filter":"datum.s == 'd'"}],"mark":{"type":"line","strokeWidth":1.6,"color":"#f0661a"},
 "encoding":{"x":{"field":"i","type":"quantitative"},"y":{"field":"v","type":"quantitative"}}},
{"data":{"name":"stHdr"},"mark":{"type":"text","fontSize":5,"align":"left","baseline":"middle"},
 "encoding":{"x":{"field":"i","type":"quantitative"},"y":{"field":"v","type":"quantitative"},"text":{"field":"t","type":"nominal"},
 "color":{"condition":[{"test":"datum.k == 'c'","value":"#29c5f6"},{"test":"datum.k == 'o'","value":"#f0661a"}],"value":"#4aa3b0"}}},
{"data":{"name":"logo"},"mark":{"type":"point","shape":"circle","filled":true,"color":"#2a2e39","opacity":1,"size":110},
 "encoding":{"x":{"field":"i","type":"quantitative"},"y":{"field":"v","type":"quantitative"}}},
{"data":{"name":"logo"},"mark":{"type":"text","fontSize":6,"fontWeight":"bold","color":"#ffffff","baseline":"middle"},
 "encoding":{"x":{"field":"i","type":"quantitative"},"y":{"field":"v","type":"quantitative"},"text":{"field":"t","type":"nominal"}}},
{"data":{"name":"stLab"},"mark":{"type":"text","fontSize":5.6,"color":"#4f9cae","align":"left","baseline":"middle"},
 "encoding":{"x":{"datum":141.3,"type":"quantitative"},"y":{"field":"v","type":"quantitative"},"text":{"field":"t","type":"nominal"}}}
]
},
{
"width":598,"height":11,
"layer":[
{"data":{"name":"ta"},"mark":{"type":"text","fontSize":5.8,"color":"#4f9cae","baseline":"middle"},
 "encoding":{"x":{"field":"i","type":"quantitative","scale":{"domain":[-0.4,140.8],"nice":false,"zero":false,"padding":0},"axis":null},"text":{"field":"t","type":"nominal"}}},
{"data":{"name":"taBoxW"},"mark":{"type":"rect","color":"#ffffff"},
 "encoding":{"x":{"field":"i0","type":"quantitative"},"x2":{"field":"i1"}}},
{"data":{"name":"taW"},"mark":{"type":"text","fontSize":5,"color":"#131722","baseline":"middle"},
 "encoding":{"x":{"field":"i","type":"quantitative"},"text":{"field":"t","type":"nominal"}}},
{"data":{"name":"taW2"},"mark":{"type":"text","fontSize":5,"color":"#131722","baseline":"middle","align":"left"},
 "encoding":{"x":{"field":"i","type":"quantitative"},"text":{"field":"t","type":"nominal"}}},
{"data":{"name":"taBoxR"},"mark":{"type":"rect","color":"#f23645"},
 "encoding":{"x":{"field":"i0","type":"quantitative"},"x2":{"field":"i1"}}},
{"data":{"name":"taR"},"mark":{"type":"text","fontSize":5,"color":"#ffffff","baseline":"middle"},
 "encoding":{"x":{"field":"i","type":"quantitative"},"text":{"field":"t","type":"nominal"}}}
]
},
{
"width":625,"height":12,
"data":{"name":"tb"},
"mark":{"type":"text","fontSize":6.2,"baseline":"middle"},
"encoding":{"x":{"field":"i","type":"quantitative","scale":{"domain":[-0.4,147.2],"nice":false,"zero":false,"padding":0},"axis":null},"text":{"field":"t","type":"nominal"},
 "color":{"condition":{"test":"datum.k == 'b'","value":"#4c86e8"},"value":"#b2b5be"}}
}
]
}
